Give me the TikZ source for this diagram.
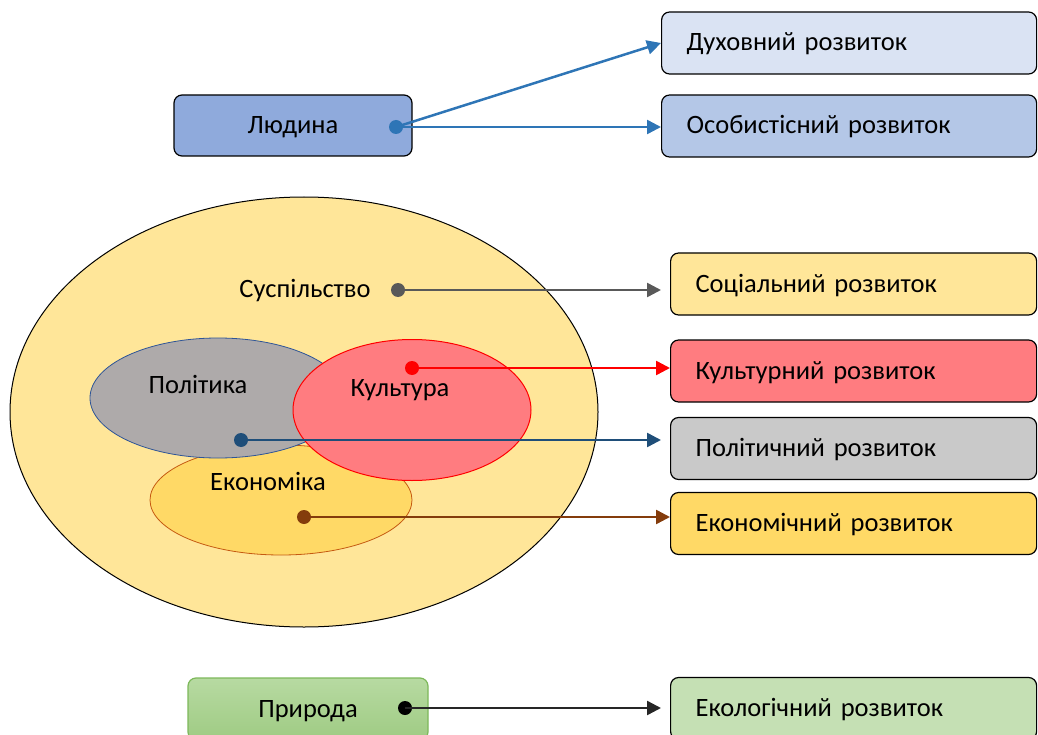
\documentclass[tikz,border=0pt]{standalone}
\usepackage{fontspec}
\setmainfont{Carlito}
\usetikzlibrary{arrows.meta,shapes.geometric}

\definecolor{ljfill}{HTML}{8FAADC}
\definecolor{dukhfill}{HTML}{DAE3F3}
\definecolor{osobfill}{HTML}{B4C7E7}
\definecolor{susfill}{HTML}{FFE699}
\definecolor{kulfill}{HTML}{FF7C80}
\definecolor{polfill}{HTML}{AEAAAA}
\definecolor{polbox}{HTML}{C9C9C9}
\definecolor{ekfill}{HTML}{FFD966}
\definecolor{ekoline}{HTML}{C55A11}
\definecolor{ecofill}{HTML}{C5E0B4}
\definecolor{prtop}{HTML}{B7DAA2}
\definecolor{prbot}{HTML}{9FCB83}
\definecolor{prline}{HTML}{7DB85A}
\definecolor{cblue}{HTML}{2E75B6}
\definecolor{cgrey}{HTML}{595959}
\definecolor{cnavy}{HTML}{1F4E79}
\definecolor{cbrown}{HTML}{843C0C}
\definecolor{cpolline}{HTML}{2F5597}

\begin{document}
\begin{tikzpicture}[x=1pt, y=-1pt, >={Triangle[length=14pt,width=14pt]},
    font=\fontsize{26.5}{30}\selectfont,
    % Stil für die Texte
        label/.style={text height=20pt, text depth=4pt},
    % Stil für die Ausgangsboxen
        source/.style={label, rectangle, rounded corners=8pt, draw=black, line width=1.2pt, minimum width=238pt, minimum height=61pt},
    % Stil für die Zielboxen (Entwicklung)
        goal/.style={label, rectangle, rounded corners=8pt, draw=black, line width=1.2pt, anchor=west, text width=316pt, inner xsep=25pt, align=left, minimum height=62pt},
    % Stil für die Ellipsen
        sphere/.style={ellipse, inner sep=0pt},
    % Stil für die Punkte
        dot/.style={circle, inner sep=0pt, minimum size=14pt},
    % Stil für die Pfeile
        link/.style={->, line width=2.5pt}]

        \clip (0,0) rectangle (1038,735);

        % Mensch und seine Entwicklung
        \node[source, fill=ljfill] (ljudyna) at (293,125.5) {Людина};
        \node[goal, fill=dukhfill, text width=325pt] (dukh) at (661,43) {Духовний розвиток};
        \node[goal, fill=osobfill, text width=325pt] (osob) at (661,126) {Особистісний розвиток};
        \node[dot, fill=cblue] (dotLj) at (396,127) {};

        % Gesellschaft mit ihren Bereichen
        \node[sphere, draw=black, line width=1pt, fill=susfill, minimum width=588pt, minimum height=430pt] (suspil) at (304,412) {};
        \node[sphere, draw=ekoline, line width=0.8pt, fill=ekfill, minimum width=262pt, minimum height=110pt] (ekon) at (281,500) {};
        \node[sphere, draw=cpolline, line width=0.8pt, fill=polfill, minimum width=256pt, minimum height=120pt] (polit) at (218,398) {};
        \node[sphere, draw=red, line width=1pt, fill=kulfill, minimum width=238pt, minimum height=141pt] (kult) at (412,410) {};

        \node[label] (lblSus) at (305,289) {Суспільство};
        \node[label] (lblPol) at (198,385) {Політика};
        \node[label] (lblKul) at (400,388) {Культура};
        \node[label] (lblEk) at (268,482) {Економіка};

        \node[dot, fill=cgrey] (dotSus) at (398,290) {};
        \node[dot, fill=red] (dotKul) at (412,368) {};
        \node[dot, fill=cnavy] (dotPol) at (241,440) {};
        \node[dot, fill=cbrown] (dotEk) at (304,517) {};

        \node[goal, fill=susfill] (socr) at (670,284) {Соціальний розвиток};
        \node[goal, fill=kulfill] (kulr) at (670,371) {Культурний розвиток};
        \node[goal, fill=polbox] (polr) at (670,448.5) {Політичний розвиток};
        \node[goal, fill=ekfill] (ekr) at (670,523.5) {Економічний розвиток};

        % Natur
        \node[source, draw=prline, top color=prtop, bottom color=prbot, minimum width=240pt, minimum height=62pt] (pryroda) at (308,709) {Природа};
        \node[goal, fill=ecofill] (ekolr) at (670,708.5) {Екологічний розвиток};
        \node[dot, fill=black] (dotPr) at (405,708) {};

        % Pfeile zu den Entwicklungsarten
        \draw[link, cblue] (dotLj.center) -- (dukh.west);
        \draw[link, cblue] (dotLj.center) -- (dotLj -| osob.west);
        \draw[link, cgrey, shorten >=9pt] (dotSus.center) -- (dotSus -| socr.west);
        \draw[link, red] (dotKul.center) -- (dotKul -| kulr.west);
        \draw[link, cnavy, shorten >=9pt] (dotPol.center) -- (dotPol -| polr.west);
        \draw[link, cbrown] (dotEk.center) -- (dotEk -| ekr.west);
        \draw[link, black!85, shorten >=9pt] (dotPr.center) -- (dotPr -| ekolr.west);
    \end{tikzpicture}
\end{document}
